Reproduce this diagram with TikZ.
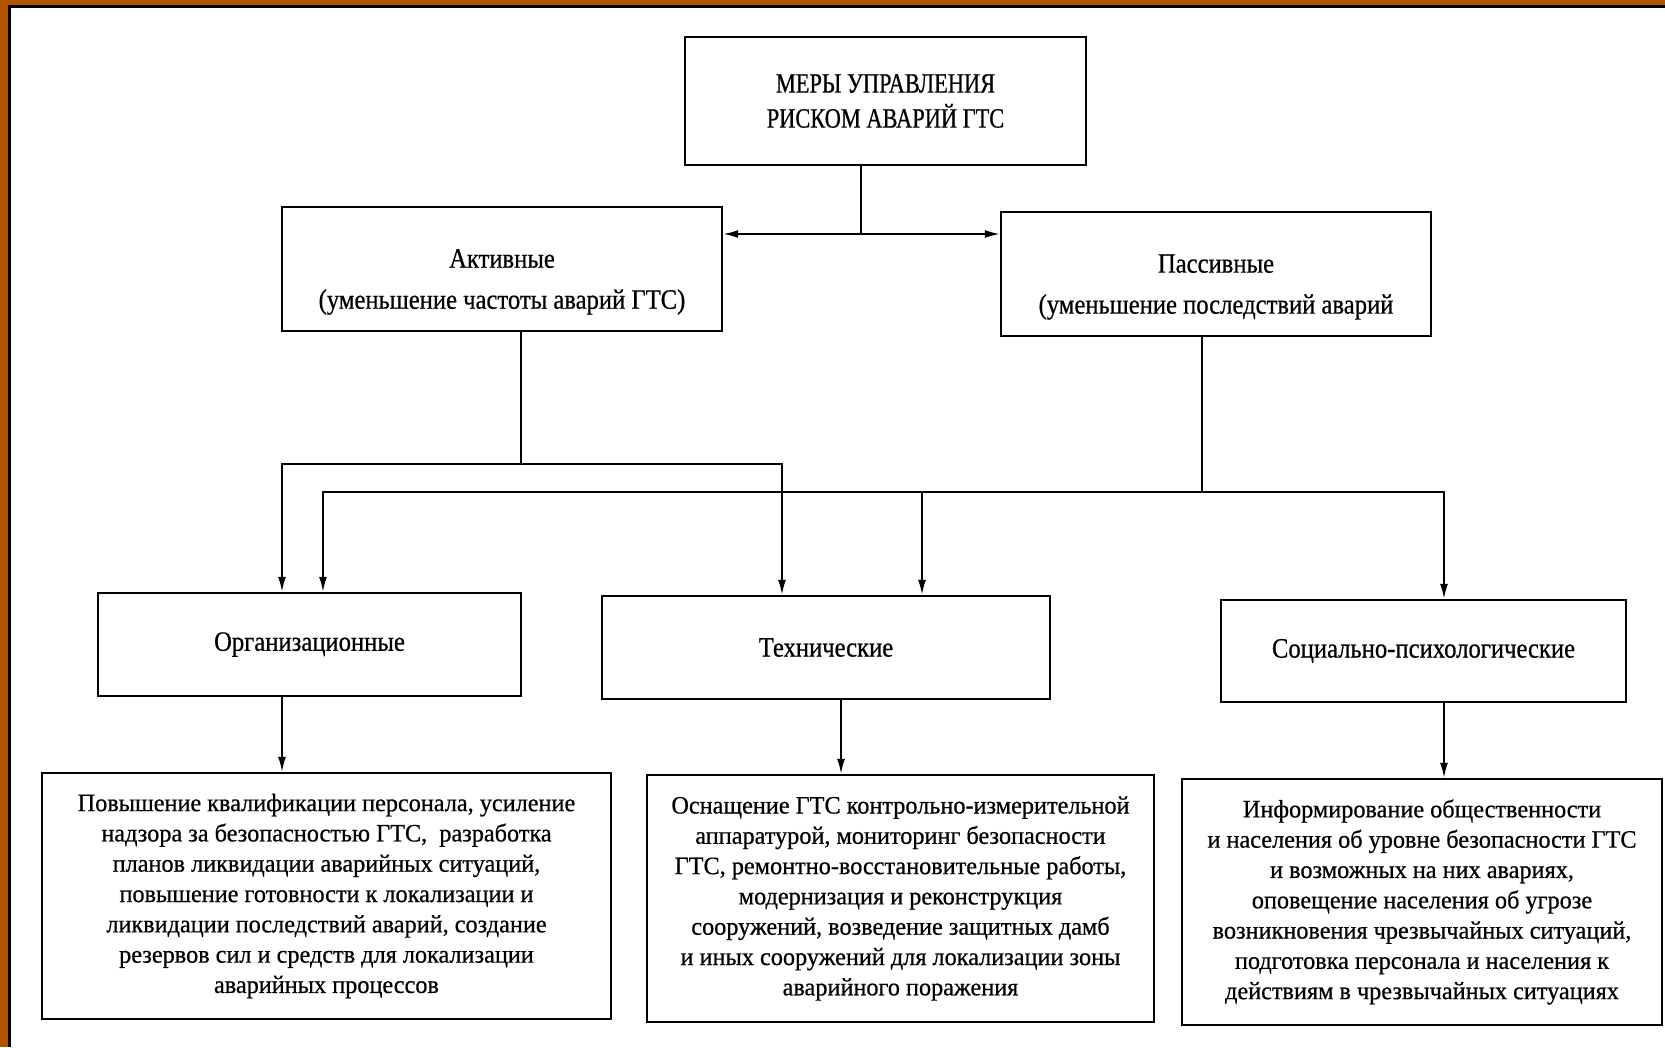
\documentclass[tikz,border=0pt]{standalone}
\usepackage{fontspec}
\setmainfont{Liberation Serif}[FakeStretch=0.8,FakeBold=0.6]
\newfontfamily\midfam{Liberation Serif}[FakeStretch=0.88,FakeBold=0.6]
\newfontfamily\lowfam{Liberation Serif}[FakeStretch=0.97,FakeBold=0.6]
\usetikzlibrary{arrows.meta}
\definecolor{frameorange}{RGB}{178,84,0}
\tikzset{
  box/.style={draw=black, line width=2.4pt, inner sep=0pt, align=center, fill=white},
  conn/.style={draw=black, line width=1.8pt},
  arr/.style={conn, -{Latex[length=15pt,width=8pt]}},
  dbl/.style={conn, {Latex[length=15pt,width=8pt]}-{Latex[length=15pt,width=8pt]}},
  toptxt/.style={font=\fontsize{28}{35}\selectfont},
  midtxt/.style={font=\midfam\fontsize{28}{41}\selectfont},
  lowtxt/.style={font=\lowfam\fontsize{25}{30.3}\selectfont},
}
\begin{document}
\begin{tikzpicture}[x=1pt,y=-1pt]
\useasboundingbox (0,0) rectangle (1665,1047);
\fill[white] (0,0) rectangle (1665,1047);
\fill[frameorange] (0,0) rectangle (8,1047);
\fill[frameorange] (0,0) rectangle (1665,5);
\fill[black] (8,5) rectangle (10.5,1047);
\fill[black] (8,5) rectangle (1665,7.5);

\node[box, toptxt, minimum width=401pt, minimum height=128pt] (top) at (885.5,101) {МЕРЫ УПРАВЛЕНИЯ\\РИСКОМ АВАРИЙ ГТС};
\node[box, minimum width=440pt, minimum height=124pt,
  label={[midtxt, align=center, yshift=-13pt]center:Активные\\(уменьшение частоты аварий ГТС)}] (act) at (502,269) {};
\node[box, minimum width=430pt, minimum height=124pt,
  label={[midtxt, align=center, yshift=-13pt]center:Пассивные\\(уменьшение последствий аварий}] (pas) at (1216,274) {};
\node[box, midtxt, minimum width=423pt, minimum height=103pt] (org) at (309.5,644.5) {Организационные};
\node[box, midtxt, minimum width=448pt, minimum height=103pt] (tech) at (826,647.5) {Технические};
\node[box, midtxt, minimum width=405pt, minimum height=102pt] (soc) at (1423.5,651) {Социально-психологические};
\node[box, lowtxt, minimum width=569pt, minimum height=246pt] (b1) at (326.5,896) {Повышение квалификации персонала, усиление\\надзора за безопасностью ГТС, \ разработка\\планов ликвидации аварийных ситуаций,\\повышение готовности к локализации и\\ликвидации последствий аварий, создание\\резервов сил и средств для локализации\\аварийных процессов};
\node[box, lowtxt, minimum width=507pt, minimum height=247pt] (b2) at (900.5,898.5) {Оснащение ГТС контрольно-измерительной\\аппаратурой, мониторинг безопасности\\ГТС, ремонтно-восстановительные работы,\\модернизация и реконструкция\\сооружений, возведение защитных дамб\\и иных сооружений для локализации зоны\\аварийного поражения};
\node[box, lowtxt, minimum width=480pt, minimum height=246pt] (b3) at (1422,902) {Информирование общественности\\и населения об уровне безопасности ГТС\\и возможных на них авариях,\\оповещение населения об угрозе\\возникновения чрезвычайных ситуаций,\\подготовка персонала и населения к\\действиям в чрезвычайных ситуациях};

\coordinate (split) at (861,234);
\coordinate (a1) at (521,464);
\coordinate (aL) at (282,464);
\coordinate (aR) at (782,464);
\coordinate (p1) at (1202,492);
\coordinate (pL) at (323,492);
\coordinate (pM) at (922,492);
\coordinate (pR) at (1444,492);
\coordinate (tx) at (841,0);

\draw[conn] (top.south -| split) -- (split);
\draw[dbl] (act.east |- split) -- (pas.west |- split);

\draw[conn] (act.south -| a1) -- (a1);
\draw[arr] (a1) -- (aL) -- (org.north -| aL);
\draw[arr] (a1) -- (aR) -- (tech.north -| aR);

\draw[conn] (pas.south -| p1) -- (p1);
\draw[arr] (p1) -- (pL) -- (org.north -| pL);
\draw[arr] (pM) -- (tech.north -| pM);
\draw[arr] (p1) -- (pR) -- (soc.north -| pR);

\draw[arr] (org.south -| aL) -- (b1.north -| aL);
\draw[arr] (tech.south -| tx) -- (b2.north -| tx);
\draw[arr] (soc.south -| pR) -- (b3.north -| pR);
\end{tikzpicture}
\end{document}
